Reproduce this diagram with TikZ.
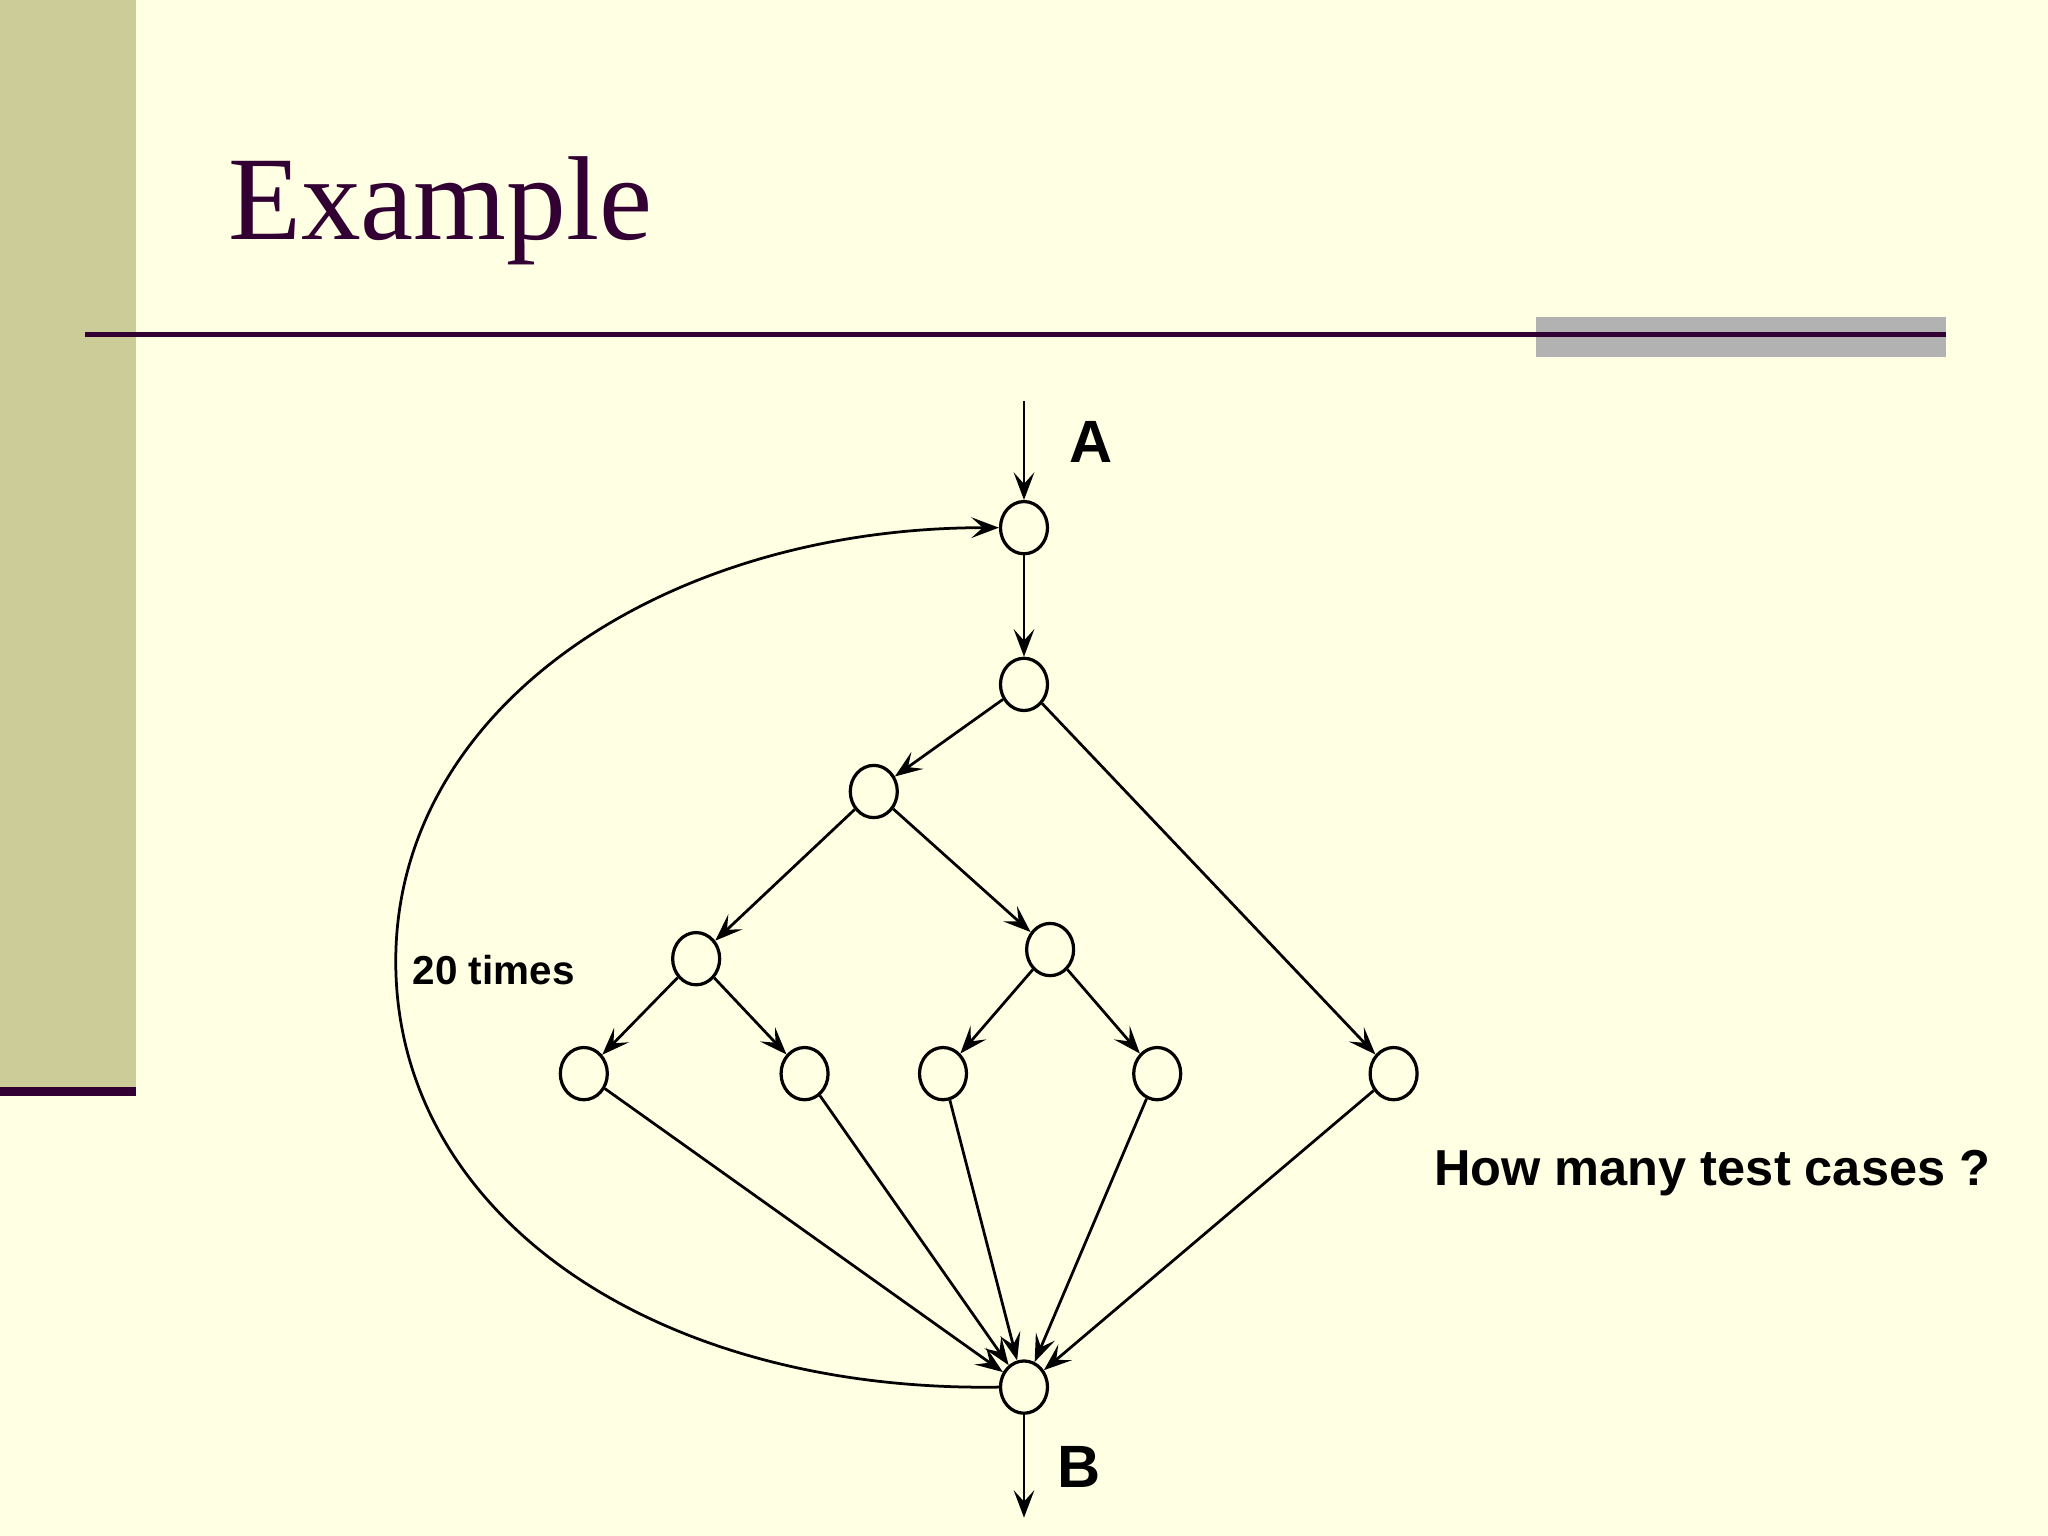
\documentclass[tikz,border=0pt]{standalone}
\usepackage{fontspec}
\setmainfont{Liberation Sans}
\newfontfamily\serifx{Liberation Serif}
\usetikzlibrary{arrows.meta,shapes.geometric}
\definecolor{bg}{HTML}{FFFFE3}
\definecolor{bar}{HTML}{CCCC99}
\definecolor{dk}{HTML}{330033}
\newdimen\pxu \pxu=0.01cm
\tikzset{v/.style={draw,ellipse,minimum width=36\pxu,minimum height=40\pxu,inner sep=0pt,line width=0.7pt},
 e/.style={-{Stealth[length=6pt,width=4.5pt,inset=2.5pt]},line width=0.6pt}}
\begin{document}
\begin{tikzpicture}[x=0.01cm,y=-0.01cm]
\fill[bg] (0,0) rectangle (1568,1176);
\useasboundingbox (0,0) rectangle (1568,1176);
\fill[bar] (0,0) rectangle (104,832);
\fill[dk] (0,832) rectangle (104,839);
\fill[gray!60] (1176,243) rectangle (1490,273);
\draw[dk,line width=1.2pt] (65,256) -- (1490,256);
\node[anchor=base west,text=dk,font=\serifx\fontsize{26}{30}\selectfont,inner sep=0] (title) at (174,183) {Example};
\node[v] (n1) at (784,404) {};
\node[v] (n2) at (784,524) {};
\node[v] (n3) at (669,606) {};
\node[v] (n4) at (533,734) {};
\node[v] (n5) at (804,727) {};
\node[v] (l1) at (447,822) {};
\node[v] (l2) at (616,822) {};
\node[v] (l3) at (722,822) {};
\node[v] (l4) at (886,822) {};
\node[v] (l5) at (1067,822) {};
\node[v] (b) at (784,1062) {};
\coordinate (top) at (784,307);
\coordinate (bot) at (784,1162);
\draw[e] (top) -- (n1);
\draw[e] (b) -- (bot);
\draw[e] (n1) -- (n2);
\draw[e] (n2) -- (n3);
\draw[e] (n2) -- (l5);
\draw[e] (n3) -- (n4);
\draw[e] (n3) -- (n5);
\draw[e] (n4) -- (l1);
\draw[e] (n4) -- (l2);
\draw[e] (n5) -- (l3);
\draw[e] (n5) -- (l4);
\foreach \l in {l1,l2,l3,l4,l5} \draw[e] (\l) -- (b);
\draw[e] (b.west) .. controls (500,1066) and (303,930) .. (303,736)
  .. controls (303,540) and (510,404) .. (n1.west);
\node[font=\bfseries\fontsize{13}{16}\selectfont] (A) at (835,338) {A};
\node[font=\bfseries\fontsize{13}{16}\selectfont] (B) at (826,1123) {B};
\node[font=\bfseries\fontsize{8.8}{11}\selectfont] (t) at (378,743) {20 times};
\node[font=\bfseries\fontsize{11}{14}\selectfont] (q) at (1311,898) {How many test cases ?};
\end{tikzpicture}
\end{document}
